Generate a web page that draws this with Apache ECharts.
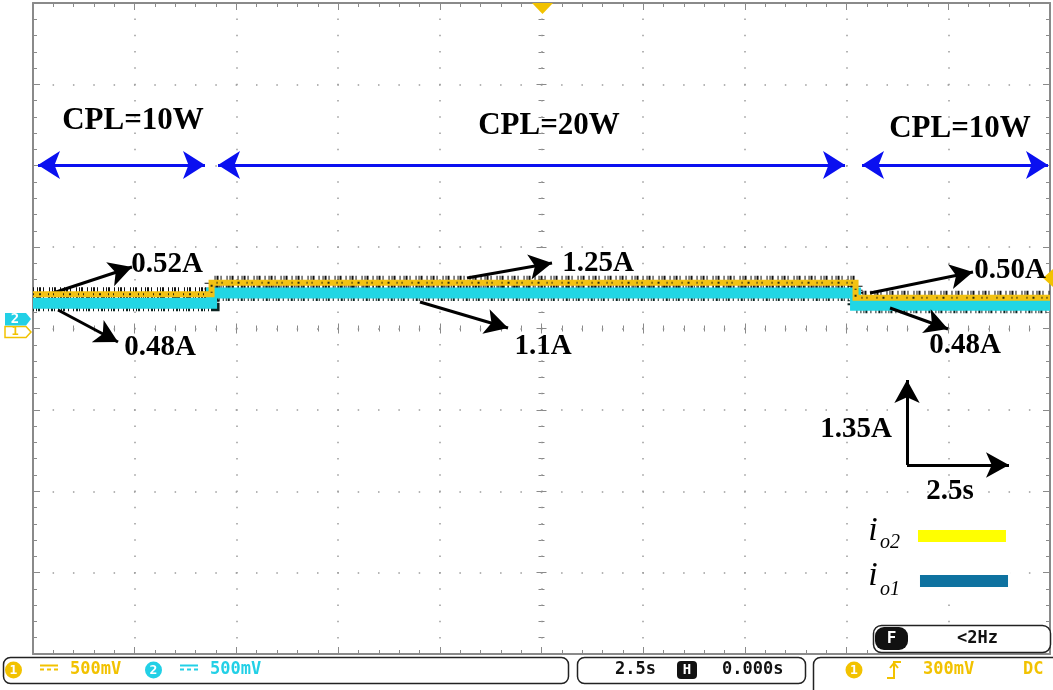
<!DOCTYPE html>
<html>
<head>
<meta charset="utf-8">
<title>io1 / io2 CPL step</title>
<script src="https://cdn.jsdelivr.net/npm/echarts@6.0.0/dist/echarts.min.js"></script>
<style>
  html, body { margin: 0; padding: 0; background: #fff; }
  #scope { width: 1053px; height: 690px; }
</style>
</head>
<body>
<div id="scope"></div>
<script>
// 示波器截图: 2.5s/格, 1.35A/格
var stepTimes = [0, 4.39, 20.22, 25];        // s, load steps and end of record
var cplNames  = ['CPL=10W', 'CPL=20W', 'CPL=10W'];
var io2Level  = [0.57, 0.76, 0.51];          // yellow trace, screen level (A)
var io1Level  = [0.42, 0.59, 0.385];         // cyan trace, screen level (A)
var io2Marks  = ['0.52A', '1.25A', '0.50A'];
var io1Marks  = ['0.48A', '1.1A', '0.48A'];
var xScale    = [0, 25, 2.5];                // min, max, s per div
var yScale    = [-5.4, 5.4, 1.35];           // min, max, A per div
var scaleText = ['1.35A', '2.5s'];

var gray = '#8a8a8a';
var serifBold = {fontFamily: '"Liberation Serif", "Times New Roman", serif', fontWeight: 'bold', fontSize: 29, color: '#000'};
var serifBig  = Object.assign({}, serifBold, {fontSize: 31});
var serifItal = {fontFamily: '"Liberation Serif", "Times New Roman", serif', fontStyle: 'italic', fontWeight: 'normal', color: '#000'};
var mono = 'bold 17px "DejaVu Sans Mono", monospace';

function stepData(levels) {
  var out = [];
  for (var i = 0; i < stepTimes.length; i++) {
    out.push([stepTimes[i], levels[Math.min(i, levels.length - 1)]]);
  }
  return out;
}

// 边框 + 中心刻度
function xAxisAt(position, offset, inside, major, minor, line, split) {
  return {
    type: 'value', min: xScale[0], max: xScale[1], interval: xScale[2],
    position: position, offset: offset,
    axisLine: {show: line, onZero: false, lineStyle: {color: gray, width: 2}},
    axisTick: {show: true, inside: inside, length: major, lineStyle: {color: gray, width: 1}},
    minorTick: {show: true, splitNumber: 5, length: minor, lineStyle: {color: gray, width: 1}},
    axisLabel: {show: false},
    splitLine: {show: split, lineStyle: {color: '#9c9c9c', width: 1.5, type: [1.5, 14.775], dashOffset: 0.75}}
  };
}
function yAxisAt(position, offset, inside, major, minor, line, split) {
  return {
    type: 'value', min: yScale[0], max: yScale[1], interval: yScale[2],
    position: position, offset: offset,
    axisLine: {show: line, onZero: false, lineStyle: {color: gray, width: 2}},
    axisTick: {show: true, inside: inside, length: major, lineStyle: {color: gray, width: 1}},
    minorTick: {show: true, splitNumber: 5, length: minor, lineStyle: {color: gray, width: 1}},
    axisLabel: {show: false},
    splitLine: {show: split, lineStyle: {color: '#9c9c9c', width: 1.5, type: [1.5, 18.84], dashOffset: 0.75}}
  };
}

function trace(levels, color, width, dash, z) {
  return {
    type: 'line', step: 'end', data: stepData(levels), symbol: 'none', silent: true, z: z,
    xAxisIndex: 0, yAxisIndex: 0,
    lineStyle: {color: color, width: width, type: dash || 'solid', cap: 'butt', join: 'miter'}
  };
}

function arrow(p1, p2, color, heads, size) {
  return [
    {coord: p1, symbol: heads[0], symbolSize: size, lineStyle: {color: color, width: 3, type: 'solid'}},
    {coord: p2, symbol: heads[1], symbolSize: size}
  ];
}
function bar(p1, p2, color) {
  return [
    {coord: p1, symbol: 'none', lineStyle: {color: color, width: 12, type: 'solid', cap: 'butt'}},
    {coord: p2, symbol: 'none'}
  ];
}
function note(coord, text, style) {
  return {coord: coord, name: text, value: 0,
    label: Object.assign({show: true, position: 'inside', formatter: '{b}'}, style)};
}

var blue = '#0a10f0';
var blueHead = [21, 22];
var blackHead = [19, 23];
var noteLines = [
  // CPL 区间
  arrow([0.123, 2.712], [4.228, 2.712], blue, ['arrow', 'arrow'], blueHead),
  arrow([4.548, 2.712], [19.961, 2.712], blue, ['arrow', 'arrow'], blueHead),
  arrow([20.379, 2.712], [24.951, 2.712], blue, ['arrow', 'arrow'], blueHead),
  // 电流标注
  arrow([0.492, 0.589], [2.434, 1.020], '#000', ['none', 'arrow'], blackHead),
  arrow([0.615, 0.307], [2.089, -0.224], '#000', ['none', 'arrow'], blackHead),
  arrow([10.669, 0.838], [12.758, 1.087], '#000', ['none', 'arrow'], blackHead),
  arrow([9.513, 0.440], [11.677, 0.008], '#000', ['none', 'arrow'], blackHead),
  arrow([20.575, 0.589], [23.107, 0.937], '#000', ['none', 'arrow'], blackHead),
  arrow([21.067, 0.340], [22.493, -0.008], '#000', ['none', 'arrow'], blackHead),
  // 标尺
  arrow([21.485, -2.264], [21.485, -0.854], '#000', ['none', 'arrow'], blackHead),
  arrow([21.485, -2.264], [23.992, -2.264], '#000', ['none', 'arrow'], blackHead),
  // 图例
  bar([21.755, -3.441], [23.918, -3.441], '#ffff00'),
  bar([21.804, -4.188], [23.968, -4.188], '#0e72a0')
];

var notePoints = [
  note([2.458, 3.442], cplNames[0], serifBig),
  note([12.684, 3.359], cplNames[1], serifBig),
  note([22.788, 3.310], cplNames[2], serifBig),
  note([3.294, 1.054], io2Marks[0], serifBold),
  note([3.122, -0.323], io1Marks[0], serifBold),
  note([13.889, 1.070], io2Marks[1], serifBold),
  note([12.537, -0.307], io1Marks[1], serifBold),
  note([24.017, 0.954], io2Marks[2], serifBold),
  note([22.911, -0.290], io1Marks[2], serifBold),
  note([20.231, -1.684], scaleText[0], serifBold),
  note([22.542, -2.712], scaleText[1], serifBold),
  note([20.649, -3.359], 'i', Object.assign({fontSize: 34}, serifItal)),
  note([21.067, -3.558], 'o2', Object.assign({fontSize: 20}, serifItal)),
  note([20.649, -4.106], 'i', Object.assign({fontSize: 34}, serifItal)),
  note([21.067, -4.338], 'o1', Object.assign({fontSize: 20}, serifItal))
];

function txt(x, y, s, color, font, align) {
  return {type: 'text', x: x, y: y, z: 20,
    style: {text: s, fill: color, font: font || mono, align: align || 'left', verticalAlign: 'middle'}};
}
function box(x, y, w, h, r, fill, stroke) {
  return {type: 'rect', z: 19, shape: {x: x, y: y, width: w, height: h, r: r},
    style: {fill: fill || 'none', stroke: stroke || null, lineWidth: 1.5}};
}
function chanDot(cx, cy, color, s) {
  return [
    {type: 'circle', z: 20, shape: {cx: cx, cy: cy, r: 8.5}, style: {fill: color}},
    txt(cx, cy + 1, s, '#fff', 'bold 13px "DejaVu Sans Mono", monospace', 'center')
  ];
}
function dcMark(x, y, color) {
  return [
    {type: 'line', z: 20, shape: {x1: x, y1: y - 2.5, x2: x + 18, y2: y - 2.5}, style: {stroke: color, lineWidth: 2}},
    {type: 'line', z: 20, shape: {x1: x, y1: y + 1.5, x2: x + 18, y2: y + 1.5}, style: {stroke: color, lineWidth: 2, lineDash: [4, 3]}}
  ];
}

var gold = '#f2c200';
var cyan = '#22d0e6';
var graphics = [
  // 图例底色
  {type: 'rect', z: 1, shape: {x: 858, y: 505, width: 152, height: 97}, style: {fill: '#fff'}},
  // 触发位置/电平标记
  {type: 'polygon', z: 20, shape: {points: [[532, 3], [553, 3], [542.5, 14]]}, style: {fill: gold}},
  {type: 'polygon', z: 1, shape: {points: [[1053, 269], [1053, 287], [1043, 278]]}, style: {fill: gold}},
  // 通道零点
  {type: 'polygon', z: 20, shape: {points: [[5, 326.5], [26, 326.5], [31, 332], [26, 337.5], [5, 337.5]]}, style: {fill: '#fff', stroke: gold, lineWidth: 1.5}},
  txt(15, 332, '1', gold, 'bold 12px "DejaVu Sans Mono", monospace', 'center'),
  {type: 'polygon', z: 21, shape: {points: [[5, 313], [26, 313], [31, 319], [26, 325.5], [5, 325.5]]}, style: {fill: cyan}},
  {type: 'text', x: 15, y: 319.5, z: 22, style: {text: '2', fill: '#fff', font: 'bold 14px "DejaVu Sans Mono", monospace', align: 'center', verticalAlign: 'middle'}},
  // 状态栏
  box(3.5, 657.5, 565, 26, 7, null, '#222'),
  box(577.5, 657.5, 228, 26, 7, null, '#222'),
  box(813.5, 657.5, 300, 50, 7, null, '#222'),
  txt(70, 670, '500mV', gold),
  txt(210, 670, '500mV', cyan),
  txt(615, 670, '2.5s', '#111'),
  {type: 'rect', z: 20, shape: {x: 677, y: 661, width: 20, height: 18, r: 4}, style: {fill: '#111'}},
  txt(687, 670.5, 'H', '#fff', 'bold 14px "DejaVu Sans Mono", monospace', 'center'),
  txt(722, 670, '0.000s', '#111'),
  {type: 'polyline', z: 20, shape: {points: [[887, 678], [894, 678], [894, 662], [901, 662]]}, style: {stroke: gold, lineWidth: 2, fill: null}},
  {type: 'polyline', z: 20, shape: {points: [[890, 668], [894, 663], [898, 668]]}, style: {stroke: gold, lineWidth: 2, fill: null}},
  txt(923, 670, '300mV', gold),
  txt(1023, 670, 'DC', gold),
  // 频率框
  box(873.5, 625.5, 177, 27, 8, '#fff', '#222'),
  {type: 'rect', z: 20, shape: {x: 875, y: 627, width: 33, height: 23, r: 9}, style: {fill: '#111'}},
  txt(891.5, 638.5, 'F', '#fff', 'bold 16px "DejaVu Sans Mono", monospace', 'center'),
  txt(957, 638.5, '<2Hz', '#111')
].concat(chanDot(13.5, 670, gold, '1'), chanDot(153.5, 670, cyan, '2'),
         chanDot(854, 670, gold, '1'), dcMark(40, 668, gold), dcMark(180, 668, cyan));

var chart = echarts.init(document.getElementById('scope'), null, {renderer: 'canvas'});
var option = {
  animation: false,
  backgroundColor: '#fff',
  grid: {left: 33, top: 3, right: 3, bottom: 36, containLabel: false},
  xAxis: [
    xAxisAt('bottom', 0, true, 7, 4, true, true),
    xAxisAt('top', 0, true, 7, 4, true, false),
    xAxisAt('bottom', -325.5, true, 5, 3, false, false),
    xAxisAt('bottom', -325.5, false, 5, 3, false, false)
  ],
  yAxis: [
    yAxisAt('left', 0, true, 7, 4, true, true),
    yAxisAt('right', 0, true, 7, 4, true, false),
    yAxisAt('left', -508.5, true, 5, 3, false, false),
    yAxisAt('left', -508.5, false, 5, 3, false, false)
  ],
  series: [
    trace(io1Level, '#0c2422', 16, [1, 2, 1, 1, 2, 3, 1, 4, 1, 2, 2, 1, 1, 3], 2),
    trace(io2Level, '#111', 14, [1, 3, 1, 1, 2, 2, 1, 5, 1, 2, 1, 1, 2, 4], 3),
    trace(io1Level, '#22d6e4', 11, null, 4),
    trace(io2Level, '#f3c213', 6, null, 5),
    trace(io2Level, '#2a2a10', 2, [1, 5, 2, 7, 1, 4, 1, 9], 6),
    {
      type: 'line', data: [], z: 8, silent: true, xAxisIndex: 0, yAxisIndex: 0,
      markLine: {silent: true, animation: false, symbol: 'none', label: {show: false},
        lineStyle: {type: 'solid'}, emphasis: {disabled: true}, data: noteLines},
      markPoint: {silent: true, animation: false, symbol: 'circle', symbolSize: 0,
        itemStyle: {color: 'transparent'}, data: notePoints}
    }
  ],
  graphic: graphics
};
chart.setOption(option);
</script>
</body>
</html>
